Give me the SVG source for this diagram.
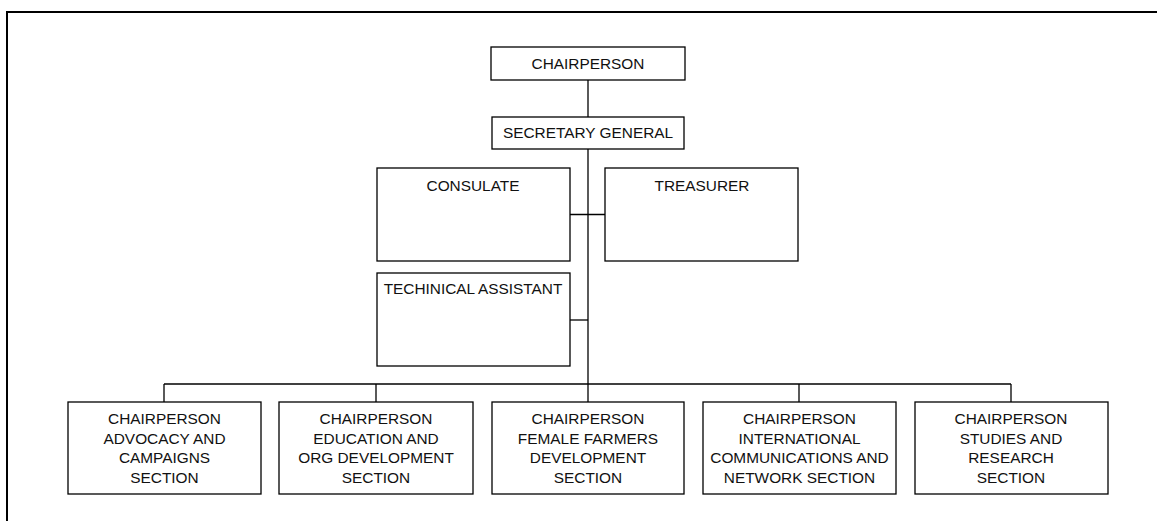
<svg xmlns="http://www.w3.org/2000/svg" width="1157" height="521" viewBox="0 0 1157 521">
  <style>
    .box { fill: #ffffff; stroke: #000000; stroke-width: 1.3; }
    .lbl { font-family: "Liberation Sans", Arial, sans-serif; font-size: 15.4px; fill: #111111; text-anchor: middle; }
    .wire { stroke: #000000; stroke-width: 1.3; fill: none; }
  </style>
  <rect x="0" y="0" width="1157" height="521" fill="#ffffff"/>
  <!-- page frame, running past the right and bottom edges -->
  <rect x="7" y="12" width="1170" height="530" fill="none" stroke="#000000" stroke-width="2"/>

  <g id="connectors">
    <line class="wire" x1="588" y1="80" x2="588" y2="117"/>
    <line class="wire" x1="588" y1="149" x2="588" y2="384"/>
    <line class="wire" x1="570" y1="214.5" x2="605" y2="214.5"/>
    <line class="wire" x1="570" y1="320" x2="588" y2="320"/>
    <line class="wire" x1="164" y1="384" x2="1011" y2="384"/>
    <line class="wire" x1="164" y1="384" x2="164" y2="402"/>
    <line class="wire" x1="376" y1="384" x2="376" y2="402"/>
    <line class="wire" x1="588" y1="384" x2="588" y2="402"/>
    <line class="wire" x1="799" y1="384" x2="799" y2="402"/>
    <line class="wire" x1="1011" y1="384" x2="1011" y2="402"/>
  </g>

  <g id="chairperson">
    <rect class="box" x="491" y="47" width="194" height="33"/>
    <text class="lbl" x="588" y="69">CHAIRPERSON</text>
  </g>
  <g id="secretary-general">
    <rect class="box" x="492" y="117" width="192" height="32"/>
    <text class="lbl" x="588" y="138">SECRETARY GENERAL</text>
  </g>
  <g id="consulate">
    <rect class="box" x="377" y="168" width="193" height="93"/>
    <text class="lbl" x="473" y="191">CONSULATE</text>
  </g>
  <g id="treasurer">
    <rect class="box" x="605" y="168" width="193" height="93"/>
    <text class="lbl" x="702" y="191">TREASURER</text>
  </g>
  <g id="technical-assistant">
    <rect class="box" x="377" y="273" width="193" height="93"/>
    <text class="lbl" x="473" y="294">TECHINICAL ASSISTANT</text>
  </g>

  <g id="advocacy">
    <rect class="box" x="68" y="402" width="193" height="92"/>
    <text class="lbl" x="164.5" y="424">CHAIRPERSON</text>
    <text class="lbl" x="164.5" y="443.5">ADVOCACY AND</text>
    <text class="lbl" x="164.5" y="463">CAMPAIGNS</text>
    <text class="lbl" x="164.5" y="482.5">SECTION</text>
  </g>
  <g id="education">
    <rect class="box" x="279" y="402" width="194" height="92"/>
    <text class="lbl" x="376" y="424">CHAIRPERSON</text>
    <text class="lbl" x="376" y="443.5">EDUCATION AND</text>
    <text class="lbl" x="376" y="463">ORG DEVELOPMENT</text>
    <text class="lbl" x="376" y="482.5">SECTION</text>
  </g>
  <g id="female-farmers">
    <rect class="box" x="492" y="402" width="192" height="92"/>
    <text class="lbl" x="588" y="424">CHAIRPERSON</text>
    <text class="lbl" x="588" y="443.5">FEMALE FARMERS</text>
    <text class="lbl" x="588" y="463">DEVELOPMENT</text>
    <text class="lbl" x="588" y="482.5">SECTION</text>
  </g>
  <g id="international">
    <rect class="box" x="703" y="402" width="193" height="92"/>
    <text class="lbl" x="799.5" y="424">CHAIRPERSON</text>
    <text class="lbl" x="799.5" y="443.5">INTERNATIONAL</text>
    <text class="lbl" x="799.5" y="463">COMMUNICATIONS AND</text>
    <text class="lbl" x="799.5" y="482.5">NETWORK SECTION</text>
  </g>
  <g id="studies">
    <rect class="box" x="915" y="402" width="193" height="92"/>
    <text class="lbl" x="1011" y="424">CHAIRPERSON</text>
    <text class="lbl" x="1011" y="443.5">STUDIES AND</text>
    <text class="lbl" x="1011" y="463">RESEARCH</text>
    <text class="lbl" x="1011" y="482.5">SECTION</text>
  </g>
</svg>
